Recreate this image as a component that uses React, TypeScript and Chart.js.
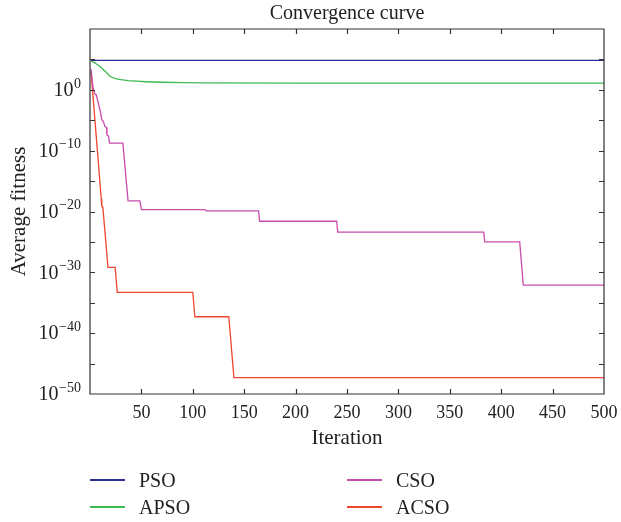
import React, { useEffect, useRef } from 'react';
import { Chart, registerables } from 'chart.js';

Chart.register(...registerables);

const FONT = '"Liberation Serif", "Times New Roman", serif';

const chartTitle = 'Convergence curve';
const seriesNames = ['PSO', 'APSO', 'CSO', 'ACSO'];
const seriesColors = ['#2d2d96', '#3dba52', '#c94bab', '#f0462b'];

const psoIter = [1, 500];
const psoFit = [6.8e4, 6.8e4];

const apsoIter = [1, 5, 10, 15, 20, 25, 30, 37, 45, 55, 70, 90, 110, 200, 500];
const apsoFit = [6.3e4, 2.5e4, 6.3e3, 1.0e3, 141, 70.8, 47.9, 33.1, 26.3, 21.4, 17.8, 15.1, 13.5, 12.6, 12.6];

const csoIter = [1, 3, 5, 6, 8, 10, 11.5, 13, 14.5, 16, 16.5, 18, 19, 32, 37, 48.5, 50, 112, 113, 164, 165, 240, 241, 383, 384, 418, 421.5, 500];
const csoFit = [2.5e3, 2.0, 0.158, 0.158, 7.9e-3, 3.2e-4, 1.26e-5, 6.3e-6, 1e-6, 6.3e-7, 4e-8, 2.5e-8, 1.74e-9, 1.74e-9, 5.6e-19, 5.6e-19, 2e-20, 2e-20, 1.26e-20, 1.26e-20, 2.5e-22, 2.5e-22, 4e-24, 4e-24, 1e-25, 1e-25, 7.9e-33, 7.9e-33];

const acsoIter = [1, 11, 11.5, 12.5, 17.5, 24.5, 26.5, 100, 102, 135, 140, 500];
const acsoFit = [1e3, 1e-18, 6.3e-20, 5e-20, 6.3e-30, 6.3e-30, 5e-34, 5e-34, 5e-38, 5e-38, 5e-48, 5e-48];

const seriesIters = [psoIter, apsoIter, csoIter, acsoIter];
const seriesFits = [psoFit, apsoFit, csoFit, acsoFit];

const xMin = 0;
const xMax = 500;
const xStep = 50;
const yMinExp = -50;
const yMaxExp = 10;
const yTickExponents = [10, 5, 0, -5, -10, -15, -20, -25, -30, -35, -40, -45, -50];
const yLabelExponents = [0, -10, -20, -30, -40, -50];

const framePlugin = {
  id: 'framePlugin',
  afterDraw(chart: any) {
    const { ctx, chartArea, scales } = chart;
    const { left, right, top, bottom } = chartArea;
    const x = scales.x;
    const y = scales.y;
    ctx.save();
    ctx.strokeStyle = '#333333';
    ctx.lineWidth = 1.2;
    ctx.beginPath();
    ctx.rect(left, top, right - left, bottom - top);
    ctx.stroke();
    ctx.beginPath();
    for (const t of x.ticks) {
      const px = Math.round(x.getPixelForValue(t.value)) + 0.5;
      if (px <= left + 1 || px >= right - 1) continue;
      ctx.moveTo(px, bottom);
      ctx.lineTo(px, bottom - 5);
      ctx.moveTo(px, top);
      ctx.lineTo(px, top + 5);
    }
    for (const e of yTickExponents) {
      const py = Math.round(y.getPixelForValue(Math.pow(10, e))) + 0.5;
      if (py <= top + 1 || py >= bottom - 1) continue;
      ctx.moveTo(left, py);
      ctx.lineTo(left + 5, py);
      ctx.moveTo(right, py);
      ctx.lineTo(right - 5, py);
    }
    ctx.stroke();

    ctx.fillStyle = '#222222';
    // title centred over the plot area
    ctx.font = `20px ${FONT}`;
    ctx.textAlign = 'center';
    ctx.textBaseline = 'middle';
    ctx.fillText(chartTitle, (left + right) / 2, top - 15);

    ctx.textAlign = 'left';
    const baseFont = `20px ${FONT}`;
    const expFont = `14px ${FONT}`;
    for (const e of yLabelExponents) {
      const py = y.getPixelForValue(Math.pow(10, e));
      const expText = e < 0 ? '\u2212' + String(-e) : String(e);
      ctx.font = expFont;
      const ew = ctx.measureText(expText).width;
      ctx.font = baseFont;
      const bw = ctx.measureText('10').width;
      const rightEdge = left - 9;
      const bx = rightEdge - ew - bw - 0.5;
      ctx.fillText('10', bx, py + 1);
      ctx.font = expFont;
      ctx.fillText(expText, bx + bw + 0.5, py - 6);
    }
    ctx.restore();
  },
};

export default function App() {
  const canvasRef = useRef<HTMLCanvasElement | null>(null);

  useEffect(() => {
    if (!canvasRef.current) return;
    const datasets = seriesNames.map((name, i) => ({
      label: name,
      data: seriesIters[i].map((it, k) => ({ x: it, y: seriesFits[i][k] })),
      borderColor: seriesColors[i],
      backgroundColor: seriesColors[i],
      borderWidth: 1.3,
      pointRadius: 0,
      tension: 0,
      fill: false,
    }));
    const chart = new Chart(canvasRef.current, {
      type: 'line',
      data: { datasets },
      options: {
        animation: false,
        responsive: false,
        devicePixelRatio: 1,
        layout: { padding: { left: 0, right: 17, top: 29, bottom: 68 } },
        plugins: {
          legend: { display: false },
          tooltip: { enabled: false },
          title: { display: false },
        },
        scales: {
          x: {
            type: 'linear',
            min: xMin,
            max: xMax,
            grid: { display: false, drawTicks: false },
            border: { display: false },
            ticks: {
              stepSize: xStep,
              autoSkip: false,
              maxRotation: 0,
              padding: 8,
              color: '#222222',
              font: { family: FONT, size: 18 },
              callback: (v: any) => (v === 0 ? '' : String(v)),
            },
            title: {
              display: true,
              text: 'Iteration',
              color: '#222222',
              font: { family: FONT, size: 21 },
              padding: { top: 0, bottom: 3 },
            },
            afterFit: (s: any) => {
              s.height = 60;
              s.paddingLeft = 0;
              s.paddingRight = 0;
            },
          },
          y: {
            type: 'logarithmic',
            min: Math.pow(10, yMinExp),
            max: Math.pow(10, yMaxExp),
            grid: { display: false, drawTicks: false },
            border: { display: false },
            ticks: { display: false },
            afterBuildTicks: (s: any) => {
              s.ticks = yTickExponents.map((e) => ({ value: Math.pow(10, e) }));
            },
            title: {
              display: true,
              text: 'Average fitness',
              color: '#222222',
              font: { family: FONT, size: 21 },
              padding: { top: 7, bottom: 0 },
            },
            afterFit: (s: any) => {
              s.width = 90;
              s.paddingTop = 0;
              s.paddingBottom = 0;
            },
          },
        },
      },
      plugins: [framePlugin],
    } as any);
    return () => chart.destroy();
  }, []);

  const legendItems = seriesNames.map((name, i) => ({
    name,
    color: seriesColors[i],
    col: Math.floor(i / 2),
    row: i % 2,
  }));
  const colX = [90, 347];
  const rowY = [480, 507];

  return (
    <div style={{ position: 'fixed', left: 0, top: 0, width: 621, height: 522, background: '#ffffff' }}>
      <canvas ref={canvasRef} width={621} height={522} style={{ position: 'absolute', left: 0, top: 0, width: 621, height: 522 }} />
      {legendItems.map((it) => (
        <div key={it.name}>
          <div
            style={{
              position: 'absolute',
              left: colX[it.col],
              top: rowY[it.row] - 1,
              width: 35,
              height: 2,
              background: it.color,
            }}
          />
          <div
            style={{
              position: 'absolute',
              left: colX[it.col] + 49,
              top: rowY[it.row] - 12,
              height: 24,
              lineHeight: '24px',
              fontFamily: FONT,
              fontSize: 20,
              color: '#222222',
              whiteSpace: 'nowrap',
            }}
          >
            {it.name}
          </div>
        </div>
      ))}
    </div>
  );
}
